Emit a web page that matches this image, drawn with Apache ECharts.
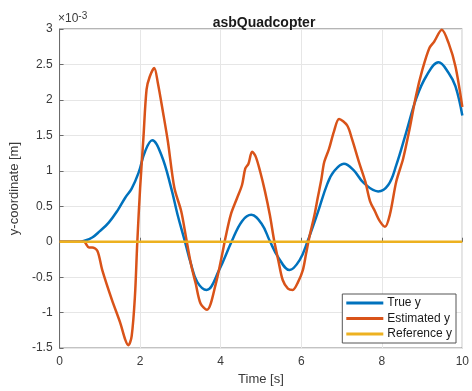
<!DOCTYPE html>
<html>
<head>
<meta charset="utf-8">
<title>asbQuadcopter</title>
<script src="https://cdn.jsdelivr.net/npm/echarts@6/dist/echarts.min.js"></script>
<style>
  html, body { margin: 0; padding: 0; background: #fff; }
  #chart { width: 472px; height: 391px; }
</style>
</head>
<body>
<div id="chart"></div>
<script>
// values are in units of 1e-3 m (axis shows x10^-3)
var timeTrue = [0, 0.5, 0.6, 0.81, 1.0, 1.22, 1.45, 1.63, 1.79, 1.96, 2.12, 2.3, 2.53, 2.77, 2.93, 3.1, 3.26, 3.42, 3.65, 3.96, 4.27, 4.53, 4.76, 5.02, 5.22, 5.43, 5.71, 5.96, 6.16, 6.41, 6.65, 6.81, 7.06, 7.3, 7.55, 7.91, 8.16, 8.36, 8.61, 8.85, 9.1, 9.41, 9.66, 9.83, 10]
var yTrue = [0, 0, 0.01, 0.06, 0.15, 0.27, 0.45, 0.62, 0.75, 0.97, 1.27, 1.43, 1.22, 0.76, 0.38, 0.03, -0.31, -0.57, -0.68, -0.4, 0, 0.29, 0.38, 0.25, 0.01, -0.22, -0.4, -0.26, 0.01, 0.41, 0.82, 0.99, 1.1, 1.01, 0.83, 0.71, 0.8, 1.08, 1.55, 2.01, 2.33, 2.53, 2.38, 2.19, 1.78]

var timeEst = [0, 0.6, 0.73, 0.81, 0.94, 1.06, 1.3, 1.51, 1.63, 1.71, 1.79, 1.87, 1.93, 2.0, 2.08, 2.16, 2.24, 2.35, 2.44, 2.57, 2.69, 2.85, 3.02, 3.14, 3.26, 3.38, 3.5, 3.66, 3.88, 4.04, 4.12, 4.25, 4.41, 4.53, 4.61, 4.69, 4.78, 4.87, 4.98, 5.1, 5.22, 5.33, 5.43, 5.54, 5.67, 5.79, 5.92, 6.04, 6.12, 6.2, 6.33, 6.41, 6.5, 6.57, 6.69, 6.81, 6.94, 7.14, 7.26, 7.43, 7.59, 7.71, 7.83, 7.95, 8.08, 8.2, 8.36, 8.53, 8.69, 8.85, 9.01, 9.18, 9.3, 9.49, 9.66, 9.83, 10]
var yEst = [0, 0, -0.08, -0.08, -0.13, -0.4, -0.82, -1.15, -1.38, -1.46, -1.33, -0.78, 0, 0.76, 1.45, 2.15, 2.33, 2.45, 2.24, 1.82, 1.41, 0.76, 0.43, 0.06, -0.31, -0.59, -0.87, -0.96, -0.59, -0.17, 0.06, 0.38, 0.62, 0.8, 1.03, 1.1, 1.27, 1.2, 0.99, 0.71, 0.38, 0.01, -0.26, -0.54, -0.66, -0.68, -0.57, -0.4, -0.17, 0.06, 0.38, 0.62, 0.88, 1.12, 1.31, 1.55, 1.73, 1.64, 1.45, 1.13, 0.85, 0.57, 0.43, 0.29, 0.21, 0.38, 0.85, 1.17, 1.59, 2.06, 2.43, 2.73, 2.82, 2.99, 2.8, 2.47, 1.9]

var timeRef = [0, 10]
var yRef = [0, 0]

var seriesNames = ['True y', 'Estimated y', 'Reference y']
var colors = ['#0072BD', '#D95319', '#EDB120']

function pairs(xs, ys) {
  return xs.map(function (x, i) { return [x, ys[i]] })
}

var chart = echarts.init(document.getElementById('chart'))
var axisColor = '#6b6b6b'
var labelColor = '#3a3a3a'
var font = 'Liberation Sans, Arial, sans-serif'

chart.setOption({
  animation: false,
  color: colors,
  textStyle: { fontFamily: font },
  title: {
    text: 'asbQuadcopter',
    left: 259,
    textAlign: 'center',
    top: 11,
    textStyle: { fontSize: 14, fontWeight: 'bold', color: '#1a1a1a', fontFamily: font }
  },
  grid: {
    left: 58, right: 5, top: 29, bottom: 39,
    show: true, borderColor: axisColor, borderWidth: 1
  },
  graphic: [{
    type: 'text',
    left: 58,
    top: 11,
    style: {
      text: '{a|\u00d710}{b|-3}',
      rich: {
        a: { fontSize: 12, fill: labelColor, fontFamily: font },
        b: { fontSize: 10, fill: labelColor, fontFamily: font, verticalAlign: 'top', padding: [0, 0, 6, 0] }
      }
    }
  }],
  legend: {
    data: seriesNames,
    orient: 'vertical',
    right: 16,
    bottom: 48,
    icon: 'rect',
    itemWidth: 37,
    itemHeight: 3,
    itemGap: 1.5,
    padding: [2, 4, 2, 4],
    backgroundColor: '#fff',
    borderColor: '#555',
    borderWidth: 1,
    borderRadius: 0,
    textStyle: { fontSize: 12, color: '#1a1a1a', lineHeight: 14, padding: [0, 0, 0, -1] }
  },
  xAxis: {
    type: 'value',
    min: 0, max: 10, interval: 2,
    name: 'Time [s]',
    nameLocation: 'middle',
    nameGap: 24,
    nameTextStyle: { fontSize: 13, color: labelColor },
    axisLine: { show: true, lineStyle: { color: axisColor } },
    axisTick: { show: true, inside: true, length: 4, lineStyle: { color: axisColor } },
    axisLabel: { fontSize: 12, color: labelColor, margin: 8 },
    splitLine: { show: true, lineStyle: { color: '#e6e6e6' } }
  },
  yAxis: {
    type: 'value',
    min: -1.5, max: 3, interval: 0.5,
    name: 'y-coordinate [m]',
    nameLocation: 'middle',
    nameGap: 33,
    nameTextStyle: { fontSize: 13, color: labelColor },
    axisLine: { show: true, lineStyle: { color: axisColor } },
    axisTick: { show: true, inside: true, length: 4, lineStyle: { color: axisColor } },
    axisLabel: { fontSize: 12, color: labelColor, margin: 7 },
    splitLine: { show: true, lineStyle: { color: '#e6e6e6' } }
  },
  series: [
    {
      name: seriesNames[0], type: 'line', showSymbol: false, symbol: 'none',
      smooth: 0.4, data: pairs(timeTrue, yTrue),
      lineStyle: { width: 2.5, color: colors[0] }
    },
    {
      name: seriesNames[1], type: 'line', showSymbol: false, symbol: 'none',
      smooth: 0.3, data: pairs(timeEst, yEst),
      lineStyle: { width: 2.5, color: colors[1] }
    },
    {
      name: seriesNames[2], type: 'line', showSymbol: false, symbol: 'none',
      data: pairs(timeRef, yRef),
      lineStyle: { width: 2.5, color: colors[2] }
    }
  ]
})
</script>
</body>
</html>
